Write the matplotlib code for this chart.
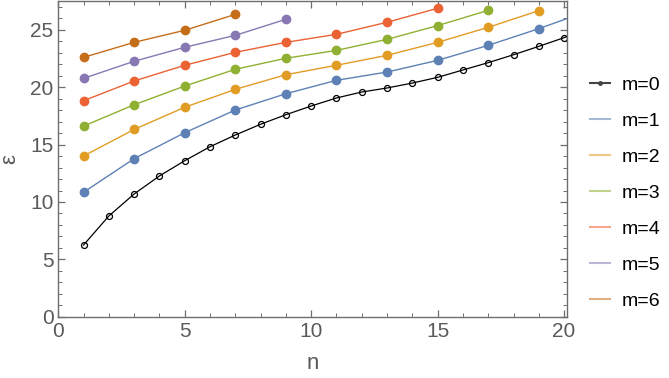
import numpy as np
import matplotlib.pyplot as plt
from matplotlib.lines import Line2D
from matplotlib.ticker import MultipleLocator

plt.rcParams['font.family'] = ['Liberation Sans', 'DejaVu Sans']

# m=0 : every n (the last one sits just past the frame)
n0 = np.arange(1, 22)
e0 = [6.25, 8.78, 10.70, 12.27, 13.60, 14.82, 15.84, 16.78, 17.61, 18.37,
      19.07, 19.59, 19.94, 20.37, 20.87, 21.51, 22.15, 22.84, 23.57, 24.33, 25.1]

# m>=1 : odd n only
n_odd = [1, 3, 5, 7, 9, 11, 13, 15, 17, 19, 21]
e1 = [10.85, 13.78, 16.04, 18.02, 19.44, 20.61, 21.33, 22.35, 23.66, 25.11, 26.7]
e2 = [14.01, 16.33, 18.26, 19.82, 21.10, 21.92, 22.79, 23.92, 25.23, 26.68]
e3 = [16.62, 18.48, 20.11, 21.57, 22.53, 23.22, 24.18, 25.38, 26.71]
e4 = [18.83, 20.55, 21.92, 23.05, 23.92, 24.62, 25.67, 26.89]
e5 = [20.78, 22.27, 23.49, 24.53, 25.93]
e6 = [22.61, 23.92, 24.97, 26.36]

series = [e1, e2, e3, e4, e5, e6]
colors = ['#5E81B5', '#E19C24', '#8FB032', '#EB6235', '#8778B3', '#C56E1A']
labels = ['m=0', 'm=1', 'm=2', 'm=3', 'm=4', 'm=5', 'm=6']

fig = plt.figure(figsize=(6.69, 3.78), dpi=100)
ax = fig.add_axes([0.0871, 0.1622, 0.7599, 0.8344])

ax.plot(n0, e0, color='black', lw=0.9, marker='o', ms=4.3,
        mfc='none', mec='black', mew=0.9)
for e, c in zip(series, colors):
    ax.plot(n_odd[:len(e)], e, color=c, lw=1.0, marker='o', ms=6,
            mec=c, mfc=c)

ax.set_xlim(0, 20.1)
ax.set_ylim(0, 27.5)
ax.xaxis.set_major_locator(MultipleLocator(5))
ax.xaxis.set_minor_locator(MultipleLocator(1))
ax.yaxis.set_major_locator(MultipleLocator(5))
ax.yaxis.set_minor_locator(MultipleLocator(1))

frame_col = '#6e6e6e'
for s in ax.spines.values():
    s.set_color(frame_col)
    s.set_linewidth(1.0)
ax.tick_params(which='both', direction='in', top=True, right=True,
               color=frame_col, labelcolor='#5a5a5a', labelsize=15)
ax.tick_params(axis='x', pad=3.5)
ax.tick_params(axis='y', pad=3.5)
ax.tick_params(which='major', length=5, width=0.9)
ax.tick_params(which='minor', length=2.7, width=0.7)

ax.set_xlabel('n', fontsize=16, color='#5a5a5a', labelpad=9)
ax.set_ylabel('ε', fontsize=16, color='#5a5a5a', labelpad=7, rotation=90)

handles = [Line2D([], [], color='#444444', lw=1.5, marker='o', ms=2.5)]
handles += [Line2D([], [], color=c, lw=1.5, alpha=0.55) for c in colors]
fig.legend(handles, labels, loc='center left', bbox_to_anchor=(0.882, 0.489),
           frameon=False, fontsize=14, handlelength=1.03, handletextpad=0.6,
           labelspacing=0.94, borderpad=0, borderaxespad=0)

fig.savefig('out.png', dpi=100)
